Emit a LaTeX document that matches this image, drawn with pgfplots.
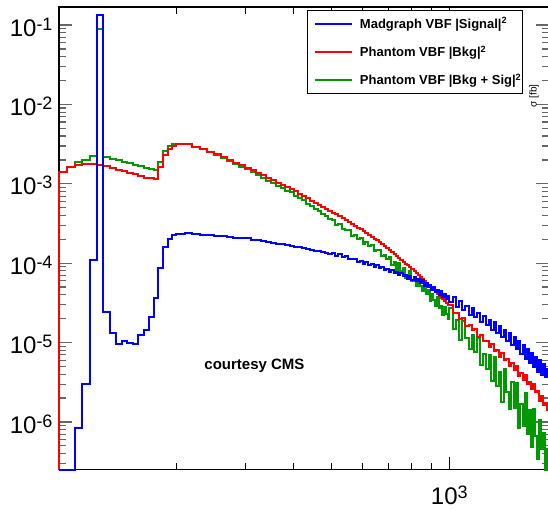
\documentclass[border=0pt]{standalone}
\usepackage{fontspec}
\setmainfont{Liberation Sans}
\usepackage{pgfplots}
\pgfplotsset{compat=1.18}

% power-of-ten tick label in the text font
\newcommand{\pw}[1]{10\raise6pt\hbox{\fontsize{18}{18}\selectfont #1}}

\definecolor{rootgreen}{RGB}{0,153,0}

\begin{document}
\begin{tikzpicture}
\begin{axis}[
    name=ax,
    scale only axis,
    width=490.3pt, height=462.5pt,
    xmode=log, ymode=log,
    xmin=100, xmax=1800,
    ymin=2.52e-7, ymax=0.1686,
    clip=false,
    axis line style={line width=1.6pt},
    xtick={1000}, xticklabels={\pw{3}},
    minor xtick={200,300,400,500,600,700,800,900},
    ytick={1e-6,1e-5,1e-4,1e-3,1e-2,1e-1},
    yticklabels={\pw{-6},\pw{-5},\pw{-4},\pw{-3},\pw{-2},\pw{-1}},
    minor ytick={3e-7,4e-7,5e-7,6e-7,7e-7,8e-7,9e-7,
                 2e-6,3e-6,4e-6,5e-6,6e-6,7e-6,8e-6,9e-6,
                 2e-5,3e-5,4e-5,5e-5,6e-5,7e-5,8e-5,9e-5,
                 2e-4,3e-4,4e-4,5e-4,6e-4,7e-4,8e-4,9e-4,
                 2e-3,3e-3,4e-3,5e-3,6e-3,7e-3,8e-3,9e-3,
                 2e-2,3e-2,4e-2,5e-2,6e-2,7e-2,8e-2,9e-2},
    major tick length=13pt, minor tick length=7pt,
    xtick style={black, line width=1pt},
    ytick style={black!60, line width=1.2pt},
    tick label style={font=\fontsize{24}{24}\selectfont},
    yticklabel style={anchor=east, inner sep=0pt, xshift=-6pt, yshift=-2pt},
    xticklabel style={anchor=north, inner sep=0pt, yshift=-16pt},
    legend cell align=left,
    legend image code/.code={\draw[line width=2pt] (7pt,0pt) -- (44pt,0pt); \path (0pt,0pt);},
    legend style={at={(rel axis cs:0.5064,0.9935)}, anchor=north west,
        draw=black, line width=1pt, fill=white,
        inner xsep=0pt, inner ysep=6pt, row sep=14pt, column sep=6pt,
        nodes={inner sep=1pt},
        font=\bfseries\fontsize{13}{15}\selectfont},
]
\addlegendimage{blue}
\addlegendentry{Madgraph VBF |Signal|\textsuperscript{2}}
\addlegendimage{red}
\addlegendentry{Phantom VBF |Bkg|\textsuperscript{2}}
\addlegendimage{rootgreen}
\addlegendentry{Phantom VBF |Bkg + Sig|\textsuperscript{2}}

% Phantom |Bkg + Sig|^2  (x = left bin edge)
\addplot[const plot, draw=rootgreen, line width=2pt, forget plot] coordinates {
(100,2.52e-7) (100,1.40e-3) (105,1.64e-3) (110,1.90e-3) (115,1.99e-3) (120,2.23e-3)
(125,0.089) (130,2.15e-3) (135,2.08e-3) (140,1.98e-3) (145,1.90e-3) (150,1.82e-3)
(155,1.74e-3) (160,1.66e-3) (165,1.58e-3) (170,1.53e-3) (175,1.50e-3) (180,1.86e-3)
(185,2.60e-3) (190,3.00e-3) (195,3.16e-3)
(200,3.20e-3) (210,3.13e-3) (220,2.90e-3) (230,2.72e-3) (240,2.50e-3) (250,2.33e-3)
(260,2.12e-3) (270,1.96e-3) (280,1.78e-3) (290,1.64e-3) (300,1.52e-3) (310,1.42e-3)
(320,1.28e-3) (330,1.20e-3) (340,1.10e-3) (350,1.03e-3) (360,9.4e-4) (370,8.9e-4)
(380,8.2e-4) (390,7.8e-4) (400,7.0e-4) (410,6.6e-4) (420,6.2e-4) (430,5.6e-4)
(440,5.3e-4) (450,4.8e-4) (460,4.5e-4) (470,4.2e-4) (480,3.9e-4) (490,3.65e-4)
(500,3.50e-4) (510,3.05e-4) (520,3.13e-4) (530,2.72e-4) (540,2.64e-4) (550,2.64e-4)
(560,2.22e-4) (570,2.25e-4) (580,2.03e-4) (590,2.08e-4) (600,1.77e-4) (610,1.85e-4)
(620,1.66e-4) (630,1.71e-4) (640,1.44e-4) (650,1.45e-4) (660,1.45e-4) (670,1.22e-4)
(680,1.28e-4) (690,1.13e-4) (700,1.21e-4) (710,9.4e-5) (720,1.04e-4) (730,8.3e-5)
(740,1.0e-4) (750,8.0e-5) (760,8.6e-5) (770,6.5e-5) (780,7.2e-5) (790,7.9e-5)
(800,5.9e-5) (810,6.6e-5) (820,5.1e-5) (830,6.4e-5) (840,5.1e-5) (850,4.5e-5)
(860,5.5e-5) (870,4.1e-5) (880,4.6e-5) (890,3.3e-5) (900,4.1e-5) (910,3.4e-5)
(920,2.9e-5) (930,3.7e-5) (940,2.7e-5) (950,2.9e-5) (960,2.2e-5) (970,2.8e-5)
(980,2.3e-5) (990,2.0e-5)
(1000,2.7e-5) (1020,1.5e-5) (1040,1.94e-5) (1060,1.07e-5) (1080,1.88e-5) (1100,1.13e-5)
(1120,8.4e-6) (1140,1.25e-5) (1160,7.6e-6) (1180,1.13e-5) (1200,5.2e-6) (1220,7.2e-6)
(1240,4.7e-6) (1260,6.9e-6) (1280,3.3e-6) (1300,6.5e-6) (1320,2.8e-6) (1340,4.3e-6)
(1360,1.8e-6) (1380,4.7e-6) (1400,2.4e-6) (1420,1.45e-6) (1440,3.2e-6) (1460,1.5e-6)
(1480,3.1e-6) (1500,8.3e-7) (1520,1.67e-6) (1540,9.0e-7) (1560,2.3e-6) (1580,7.0e-7)
(1600,1.4e-6) (1620,4.9e-7) (1640,1.44e-6) (1660,6.6e-7) (1680,3.4e-7) (1700,1.05e-6)
(1720,4.6e-7) (1740,7.2e-7) (1760,2.52e-7) (1780,4.6e-7) (1800,4.6e-7)
};

% Phantom |Bkg|^2
\addplot[const plot, draw=red, line width=2pt, forget plot] coordinates {
(100,2.52e-7) (100,1.40e-3) (105,1.62e-3) (110,1.74e-3) (115,1.76e-3) (120,1.76e-3)
(125,1.72e-3) (130,1.66e-3) (135,1.58e-3) (140,1.50e-3) (145,1.43e-3) (150,1.37e-3)
(155,1.31e-3) (160,1.25e-3) (165,1.20e-3) (170,1.17e-3) (175,1.15e-3) (180,1.62e-3)
(185,2.30e-3) (190,2.74e-3) (195,3.00e-3)
(200,3.14e-3) (210,3.15e-3) (220,2.93e-3) (230,2.75e-3) (240,2.55e-3) (250,2.36e-3)
(260,2.18e-3) (270,2.00e-3) (280,1.85e-3) (290,1.72e-3) (300,1.59e-3) (310,1.48e-3)
(320,1.37e-3) (330,1.28e-3) (340,1.19e-3) (350,1.11e-3) (360,1.03e-3) (370,9.68e-4)
(380,9.07e-4) (390,8.51e-4) (400,8.00e-4) (410,7.54e-4) (420,7.03e-4) (430,6.56e-4)
(440,6.15e-4) (450,5.77e-4) (460,5.41e-4) (470,5.11e-4) (480,4.84e-4) (490,4.58e-4)
(500,4.34e-4) (510,4.12e-4) (520,3.91e-4) (530,3.69e-4) (540,3.49e-4) (550,3.30e-4)
(560,3.13e-4) (570,2.96e-4) (580,2.81e-4) (590,2.66e-4) (600,2.52e-4) (610,2.39e-4)
(620,2.26e-4) (630,2.15e-4) (640,2.04e-4) (650,1.94e-4) (660,1.84e-4) (670,1.73e-4)
(680,1.64e-4) (690,1.55e-4) (700,1.46e-4) (710,1.38e-4) (720,1.31e-4) (730,1.24e-4)
(740,1.175e-4) (750,1.11e-4) (760,1.05e-4) (770,9.9e-5) (780,9.4e-5) (790,8.9e-5)
(800,8.4e-5) (810,7.98e-5) (820,7.57e-5) (830,7.19e-5) (840,6.78e-5) (850,6.40e-5)
(860,6.04e-5) (870,5.70e-5) (880,5.38e-5) (890,5.09e-5) (900,4.82e-5) (910,4.56e-5)
(920,4.32e-5) (930,4.09e-5) (940,3.88e-5) (950,3.68e-5) (960,3.49e-5) (970,3.32e-5)
(980,3.15e-5) (990,3.00e-5)
(1000,2.95e-5) (1020,2.39e-5) (1040,2.38e-5) (1060,2.0e-5) (1080,2.03e-5) (1100,1.63e-5)
(1120,1.65e-5) (1140,1.44e-5) (1160,1.48e-5) (1180,1.18e-5) (1200,1.24e-5) (1220,1.06e-5)
(1240,1.04e-5) (1260,8.7e-6) (1280,9.7e-6) (1300,7.9e-6) (1320,8.0e-6) (1340,6.5e-6)
(1360,7.4e-6) (1380,6.0e-6) (1400,6.3e-6) (1420,5.1e-6) (1440,5.5e-6) (1460,4.5e-6)
(1480,5.0e-6) (1500,3.8e-6) (1520,4.1e-6) (1540,3.4e-6) (1560,3.9e-6) (1580,3.0e-6)
(1600,3.2e-6) (1620,2.6e-6) (1640,3.0e-6) (1660,2.4e-6) (1680,2.44e-6) (1700,1.83e-6)
(1720,2.1e-6) (1740,1.64e-6) (1760,1.72e-6) (1780,1.43e-6) (1800,1.43e-6)
};

% Madgraph |Signal|^2
\addplot[const plot, draw=blue, line width=2pt, forget plot] coordinates {
(100,2.52e-7) (110,8.3e-7) (115,3.0e-6) (120,1.1e-4) (125,0.134) (130,2.4e-5)
(135,1.33e-5) (140,9.5e-6) (145,1.04e-5) (150,1.0e-5) (155,9.5e-6) (160,1.23e-5)
(165,1.45e-5) (170,2.1e-5) (175,3.6e-5) (180,8.6e-5) (185,1.6e-4) (190,2.0e-4)
(195,2.27e-4)
(200,2.36e-4) (210,2.38e-4) (220,2.30e-4) (230,2.28e-4) (240,2.24e-4) (250,2.18e-4)
(260,2.20e-4) (270,2.12e-4) (280,2.10e-4) (290,2.06e-4) (300,2.05e-4) (310,1.98e-4)
(320,1.97e-4) (330,1.90e-4) (340,1.86e-4) (350,1.82e-4) (360,1.76e-4) (370,1.74e-4)
(380,1.70e-4) (390,1.64e-4) (400,1.62e-4) (410,1.59e-4) (420,1.55e-4) (430,1.50e-4)
(440,1.48e-4) (450,1.44e-4) (460,1.42e-4) (470,1.38e-4) (480,1.35e-4) (490,1.32e-4)
(500,1.36e-4) (510,1.25e-4) (520,1.30e-4) (530,1.21e-4) (540,1.25e-4) (550,1.12e-4)
(560,1.14e-4) (570,1.14e-4) (580,1.05e-4) (590,1.07e-4) (600,9.9e-5) (610,1.04e-4)
(620,9.5e-5) (630,9.8e-5) (640,9.0e-5) (650,9.5e-5) (660,8.7e-5) (670,9.0e-5)
(680,8.2e-5) (690,8.5e-5) (700,7.8e-5) (710,8.3e-5) (720,7.5e-5) (730,7.8e-5)
(740,7.0e-5) (750,7.5e-5) (760,6.9e-5) (770,7.2e-5) (780,6.4e-5) (790,6.9e-5)
(800,6.2e-5) (810,6.7e-5) (820,5.9e-5) (830,6.3e-5) (840,5.7e-5) (850,6.1e-5)
(860,5.2e-5) (870,5.7e-5) (880,5.0e-5) (890,5.3e-5) (900,4.6e-5) (910,5.0e-5)
(920,4.3e-5) (930,4.6e-5) (940,4.0e-5) (950,4.5e-5) (960,3.8e-5) (970,4.1e-5)
(980,3.5e-5) (990,3.9e-5)
(1000,3.25e-5) (1020,3.7e-5) (1040,2.8e-5) (1060,3.35e-5) (1080,2.55e-5) (1100,2.9e-5)
(1120,2.2e-5) (1140,2.7e-5) (1160,2.1e-5) (1180,2.35e-5) (1200,1.8e-5) (1220,2.15e-5)
(1240,1.65e-5) (1260,1.9e-5) (1280,1.46e-5) (1300,1.8e-5) (1320,1.33e-5) (1340,1.6e-5)
(1360,1.18e-5) (1380,1.46e-5) (1400,1.04e-5) (1420,1.32e-5) (1440,9.3e-6) (1460,1.17e-5)
(1480,8.2e-6) (1500,1.06e-5) (1520,7.2e-6) (1540,9.2e-6) (1560,6.3e-6) (1580,8.4e-6)
(1600,5.5e-6) (1620,7.3e-6) (1640,4.9e-6) (1660,6.6e-6) (1680,4.3e-6) (1700,6.0e-6)
(1720,3.9e-6) (1740,5.4e-6) (1760,3.7e-6) (1780,4.7e-6) (1800,4.7e-6)
};

\node[font=\bfseries\fontsize{15}{15}\selectfont] at (rel axis cs:0.3993,0.2238) {courtesy CMS};
\node[rotate=90, font=\fontsize{10}{10}\selectfont] at (rel axis cs:0.9694,0.8076) {σ [fb]};
\end{axis}
\pgfresetboundingbox
\path[use as bounding box] ([xshift=-58.7pt,yshift=-39.5pt]ax.south west) rectangle ([xshift=-1pt,yshift=7pt]ax.north east);
\end{tikzpicture}
\end{document}
